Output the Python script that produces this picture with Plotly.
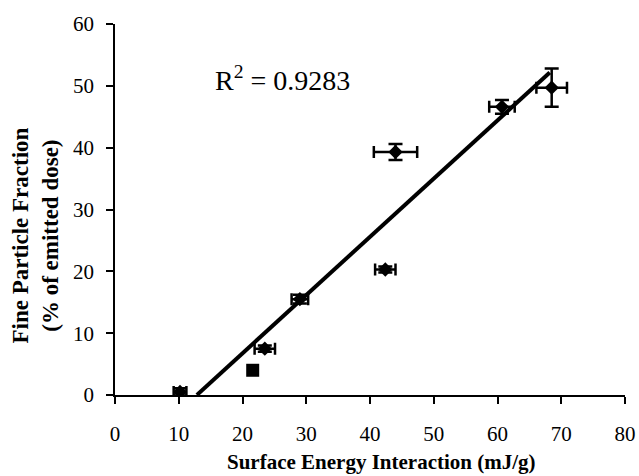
import plotly.graph_objects as go

# Data
energy = [10.2, 23.5, 29.0, 42.4, 44.0, 60.7, 68.5]
fpf = [0.5, 7.5, 15.5, 20.3, 39.3, 46.6, 49.7]
energy_err = [1.0, 1.6, 1.3, 1.6, 3.4, 2.0, 2.4]
fpf_err = [0.6, 0.5, 0.7, 0.5, 1.3, 1.1, 3.1]

sq_energy = [21.6]
sq_fpf = [4.0]

fit_slope = 0.942
fit_intercept = -12.1
fit_x = [12.85, 68.2]
fit_y = [fit_slope * x + fit_intercept for x in fit_x]

r2_text = "R<sup>2</sup> = 0.9283"
x_title = "<b>Surface Energy Interaction (mJ/g)</b>"
y_title = "<b>Fine Particle Fraction<br>(% of emitted dose)</b>"

x_ticks = [0, 10, 20, 30, 40, 50, 60, 70, 80]
y_ticks = [0, 10, 20, 30, 40, 50, 60]

font_family = "Liberation Serif, Times New Roman, serif"

fig = go.Figure()

fig.add_trace(go.Scatter(
    x=fit_x, y=fit_y, mode="lines",
    line=dict(color="black", width=4),
    showlegend=False, hoverinfo="skip",
))

fig.add_trace(go.Scatter(
    x=energy, y=fpf, mode="markers",
    marker=dict(symbol="diamond", size=11, color="black"),
    error_x=dict(type="data", array=energy_err, color="black", thickness=2.5, width=6),
    error_y=dict(type="data", array=fpf_err, color="black", thickness=2.5, width=7),
    showlegend=False,
))

fig.add_trace(go.Scatter(
    x=sq_energy, y=sq_fpf, mode="markers",
    marker=dict(symbol="square", size=13, color="black"),
    showlegend=False,
))

fig.add_annotation(
    x=26.3, y=51.2, xref="x", yref="y", text=r2_text, showarrow=False,
    font=dict(family=font_family, size=28, color="black"),
)

# Axis titles placed as annotations to match the reference positions
fig.add_annotation(
    x=0.5216, y=-0.1805, xref="paper", yref="paper", text=x_title,
    showarrow=False, xanchor="center", yanchor="middle",
    font=dict(family=font_family, size=21, color="black"),
)
fig.add_annotation(
    x=-0.156, y=0.431, xref="paper", yref="paper", text=y_title,
    showarrow=False, xanchor="center", yanchor="middle", textangle=-90,
    font=dict(family=font_family, size=23, color="black"),
)

fig.update_xaxes(
    range=[0, 80], tickvals=x_ticks, ticktext=[str(v) for v in x_ticks],
    showline=True, linecolor="black", linewidth=1.5,
    ticks="outside", ticklen=7, tickcolor="black", tickwidth=1.5,
    ticklabelstandoff=12, automargin=False,
    showgrid=False, zeroline=False,
    tickfont=dict(family=font_family, size=21, color="black"),
)
fig.update_yaxes(
    range=[0, 60], tickvals=y_ticks, ticktext=[str(v) for v in y_ticks],
    showline=True, linecolor="black", linewidth=1.5,
    ticks="outside", ticklen=7, tickcolor="black", tickwidth=1.5,
    ticklabelstandoff=8, automargin=False,
    showgrid=False, zeroline=False,
    tickfont=dict(family=font_family, size=21, color="black"),
)

fig.update_layout(
    width=639, height=476,
    margin=dict(l=115, r=14, t=24, b=81),
    plot_bgcolor="white", paper_bgcolor="white",
)

fig.write_html(
    "out.html",
    config={"displayModeBar": False},
    post_script="document.body.style.margin='0px';document.body.style.overflow='hidden';",
)
